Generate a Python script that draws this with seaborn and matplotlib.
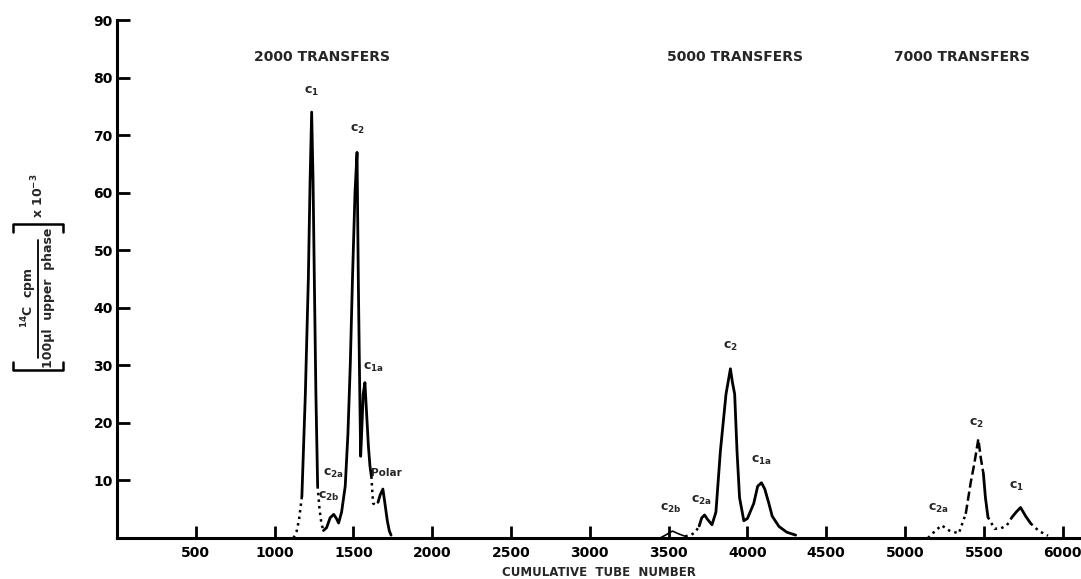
import numpy as np
import pandas as pd
import matplotlib
matplotlib.use("Agg")
import matplotlib.pyplot as plt
from matplotlib.lines import Line2D
import seaborn as sns

# ---------------- data ----------------
# 2000 transfers
c1_foot_x = [1120, 1140, 1155, 1173]
c1_foot_y = [0.0, 1.2, 3.2, 7.2]
c1_peak_x = [1173, 1195, 1214, 1225, 1235, 1244, 1252, 1262, 1273]
c1_peak_y = [7.2, 25, 45, 62, 74, 62, 45, 25, 9]
gap1_x = [1273, 1285, 1297, 1310]
gap1_y = [9, 5, 2.5, 1.3]
c2_x = [1310, 1330, 1352, 1375, 1392, 1406, 1425, 1448, 1465, 1480, 1494, 1510, 1523,
        1531, 1538, 1546, 1552, 1562, 1573, 1583, 1595, 1605, 1614]
c2_y = [1.3, 1.8, 3.5, 4.1, 3.4, 2.6, 4.5, 9, 18, 30, 45, 60, 67,
        45, 30, 14.2, 18, 25, 27, 22, 16, 12.5, 10.7]
gap2_x = [1614, 1620, 1625, 1640, 1656]
gap2_y = [10.7, 8, 6, 5.8, 6.2]
polar_x = [1656, 1670, 1687, 1700, 1715, 1728, 1739]
polar_y = [6.2, 7.5, 8.5, 6, 3, 1.2, 0.5]

# 5000 transfers
b5_x = [3446, 3480, 3524, 3565, 3605]
b5_y = [0.0, 0.5, 1.2, 0.7, 0.3]
gap5_x = [3605, 3640, 3669, 3694]
gap5_y = [0.3, 0.5, 1.0, 2.1]
m5_x = [3694, 3710, 3728, 3745, 3775, 3800, 3828, 3864, 3892, 3905, 3919, 3934, 3950,
        3977, 4000, 4040, 4065, 4089, 4110, 4136, 4157, 4200, 4250, 4306]
m5_y = [2.1, 3.5, 4.0, 3.3, 2.3, 4.5, 15, 25, 29.4, 27, 25, 15, 7,
        3.0, 3.4, 6, 9, 9.6, 8.5, 6, 3.8, 2.0, 1.0, 0.5]

# 7000 transfers
d7_x = [5145, 5190, 5232, 5280, 5341, 5385]
d7_y = [0.0, 1.2, 2.2, 1.3, 0.8, 4.2]
da7_x = [5385, 5417, 5440, 5465, 5480, 5497]
da7_y = [4.2, 9.7, 13, 17.2, 14, 11.2]
s7_x = [5497, 5510, 5526]
s7_y = [11.2, 7, 3.6]
g7_x = [5526, 5569, 5610, 5646, 5678]
g7_y = [3.6, 1.6, 1.7, 2.2, 3.6]
p7_x = [5678, 5705, 5733, 5765, 5798]
p7_y = [3.6, 4.5, 5.3, 3.8, 2.5]
t7_x = [5798, 5850, 5907]
t7_y = [2.5, 1.2, 0.4]

x_ticks = [500, 1000, 1500, 2000, 2500, 3000, 3500, 4000, 4500, 5000, 5500, 6000]
y_ticks = [10, 20, 30, 40, 50, 60, 70, 80, 90]

group_titles = ["2000 TRANSFERS", "5000 TRANSFERS", "7000 TRANSFERS"]
group_title_x = [1300, 3920, 5361]

peak_labels = [r"c$_1$", r"c$_2$", r"c$_{1a}$", r"c$_{2a}$", r"c$_{2b}$", "Polar",
               r"c$_{2b}$", r"c$_{2a}$", r"c$_2$", r"c$_{1a}$",
               r"c$_{2a}$", r"c$_2$", r"c$_1$"]
peak_label_x = [1235, 1523, 1625, 1375, 1344, 1712,
                3512, 3707, 3892, 4089,
                5210, 5450, 5710]
peak_label_y = [76.5, 69.8, 28.5, 10.1, 6.0, 10.4,
                4.0, 5.4, 32.1, 12.4,
                4.0, 18.8, 7.8]

# ---------------- figure ----------------
sns.set_style("ticks")
plt.rcParams["font.family"] = ["DejaVu Sans"]
plt.rcParams["mathtext.default"] = "regular"

W, H = 1081, 579
fig = plt.figure(figsize=(W / 100, H / 100), dpi=100)
ax = fig.add_axes([117 / W, (H - 538) / H, (1080 - 117) / W, (538 - 20) / H])

segments = [
    (c1_foot_x, c1_foot_y, ":"), (c1_peak_x, c1_peak_y, "-"), (gap1_x, gap1_y, ":"),
    (c2_x, c2_y, "-"), (gap2_x, gap2_y, ":"), (polar_x, polar_y, "-"),
    (b5_x, b5_y, "-"), (gap5_x, gap5_y, ":"), (m5_x, m5_y, "-"),
    (d7_x, d7_y, ":"), (da7_x, da7_y, "--"), (s7_x, s7_y, "-"),
    (g7_x, g7_y, ":"), (p7_x, p7_y, "-"), (t7_x, t7_y, ":"),
]
for xs, ys, ls in segments:
    lw = 2.0 if ls == "-" else 1.8
    if xs is b5_x:
        lw = 1.2
    sns.lineplot(x=xs, y=ys, ax=ax, color="black", linestyle=ls, linewidth=lw,
                 sort=False, estimator=None)

ax.set_xlim(0, 6110)
ax.set_ylim(0, 90)
ax.set_xticks(x_ticks)
ax.set_xticklabels([str(t) for t in x_ticks])
ax.set_yticks(y_ticks)
ax.set_yticklabels([str(t) for t in y_ticks])
ax.tick_params(axis="both", direction="in", length=9, width=2, labelsize=10,
               colors="black")
for lab in ax.get_xticklabels() + ax.get_yticklabels():
    lab.set_fontweight("bold")
ax.tick_params(axis="x", pad=6)
ax.tick_params(axis="y", pad=3)
sns.despine(ax=ax)
for sp in ["left", "bottom"]:
    ax.spines[sp].set_linewidth(2.2)
    ax.spines[sp].set_color("black")
ax.set_xlabel("CUMULATIVE  TUBE  NUMBER", fontsize=8.5, fontweight="bold", labelpad=4)
ax.set_ylabel("")

for t, x in zip(group_titles, group_title_x):
    ax.text(x, 83.5, t, ha="center", va="center", fontsize=10, fontweight="bold")

for t, x, y in zip(peak_labels, peak_label_x, peak_label_y):
    fs = 7.5 if t == "Polar" else 9
    ax.text(x, y, t, ha="center", va="bottom", fontsize=fs, fontweight="bold")

# ---------------- y-axis label (bracketed fraction) ----------------
def fx(px):
    return px / W

def fy(py):
    return 1 - py / H

fig.text(fx(29), fy(298), r"$^{14}$C  cpm", rotation=90, ha="center", va="center",
         fontsize=9, fontweight="bold")
fig.text(fx(49), fy(298), "100µl  upper  phase", rotation=90, ha="center", va="center",
         fontsize=9, fontweight="bold")
fig.add_artist(Line2D([fx(38), fx(38)], [fy(240), fy(358)], color="black", lw=1.3))
# bottom bracket (hooks upward)
fig.add_artist(Line2D([fx(13), fx(13), fx(63), fx(63)],
                      [fy(362), fy(370), fy(370), fy(362)], color="black", lw=1.8))
# top bracket (hooks downward)
fig.add_artist(Line2D([fx(13), fx(13), fx(63), fx(63)],
                      [fy(232), fy(224), fy(224), fy(232)], color="black", lw=1.8))
fig.text(fx(38), fy(196), r"x 10$^{-3}$", rotation=90, ha="center", va="center",
         fontsize=9, fontweight="bold")

fig.savefig("out.png", dpi=100)
